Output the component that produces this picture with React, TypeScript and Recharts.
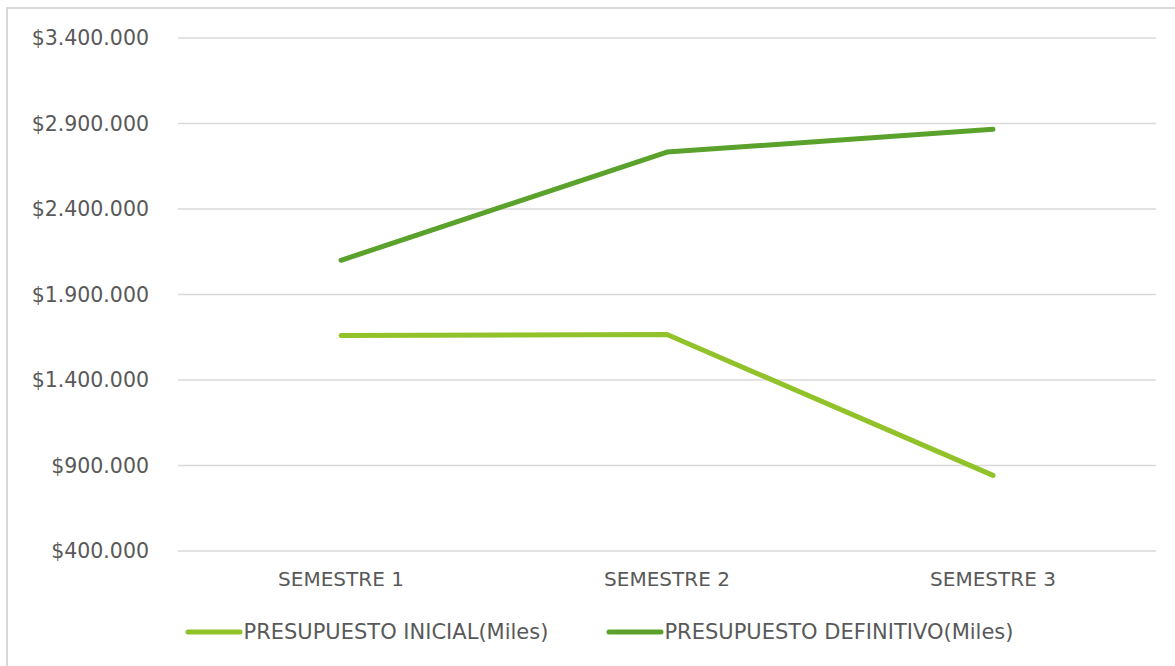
import React from 'react';
import { LineChart, Line, XAxis, YAxis, CartesianGrid, Legend } from 'recharts';

const categories = ['SEMESTRE 1', 'SEMESTRE 2', 'SEMESTRE 3'];
const inicial = [1660000, 1666000, 842000];
const definitivo = [2100000, 2733000, 2866000];
const yTicks = [400000, 900000, 1400000, 1900000, 2400000, 2900000, 3400000];
const seriesNames = ['PRESUPUESTO INICIAL(Miles)', 'PRESUPUESTO DEFINITIVO(Miles)'];
const seriesColors = ['#92c22a', '#5aa22c'];

const data = categories.map((c, i) => ({ name: c, inicial: inicial[i], definitivo: definitivo[i] }));

const FONT = '"DejaVu Sans", Verdana, sans-serif';
const TEXT = '#595959';

const fmt = (v: number) => '$' + String(Math.round(v)).replace(/\B(?=(\d{3})+(?!\d))/g, '.');

const LegendContent = () => (
  <div style={{ display: 'flex', justifyContent: 'center', alignItems: 'center', fontFamily: FONT, fontSize: 21, color: TEXT, height: 30 }}>
    {seriesNames.map((n, i) => (
      <div key={n} style={{ display: 'flex', alignItems: 'center', marginLeft: i === 0 ? 0 : 58 }}>
        <svg width={58} height={10} style={{ display: 'block' }}>
          <line x1={3} y1={5} x2={55} y2={5} stroke={seriesColors[i]} strokeWidth={5} strokeLinecap="round" />
        </svg>
        <span style={{ whiteSpace: 'nowrap' }}>{n}</span>
      </div>
    ))}
  </div>
);

export default function App() {
  return (
    <div style={{ position: 'absolute', left: 0, top: 0, width: 1175, height: 666, background: '#fff', overflow: 'hidden' }}>
      <div style={{ position: 'absolute', left: 6, top: 7, width: 1200, height: 700, border: '2px solid #d9d9d9', boxSizing: 'border-box' }} />
      <div style={{ position: 'absolute', left: 0, top: 0 }}>
        <LineChart width={1175} height={666} data={data} margin={{ top: 38, right: 19, left: 0, bottom: 55 }}>
          <CartesianGrid vertical={false} stroke="#d9d9d9" strokeWidth={1.5} />
          <XAxis
            dataKey="name"
            scale="band"
            axisLine={false}
            tickLine={false}
            tickSize={0}
            tickMargin={21}
            height={30}
            tick={{ fill: TEXT, fontFamily: FONT, fontSize: 20 }}
          />
          <YAxis
            domain={[400000, 3400000]}
            ticks={yTicks}
            tickFormatter={fmt}
            axisLine={false}
            tickLine={false}
            tickSize={0}
            tickMargin={29}
            width={178}
            tick={{ fill: TEXT, fontFamily: FONT, fontSize: 20.5 }}
          />
          <Legend verticalAlign="bottom" height={30} content={LegendContent} wrapperStyle={{ top: 617, left: 12, bottom: 'auto', width: 1175 }} />
          <Line dataKey="inicial" name={seriesNames[0]} stroke={seriesColors[0]} strokeWidth={5} strokeLinecap="round" strokeLinejoin="round" dot={false} isAnimationActive={false} />
          <Line dataKey="definitivo" name={seriesNames[1]} stroke={seriesColors[1]} strokeWidth={5} strokeLinecap="round" strokeLinejoin="round" dot={false} isAnimationActive={false} />
        </LineChart>
      </div>
    </div>
  );
}
